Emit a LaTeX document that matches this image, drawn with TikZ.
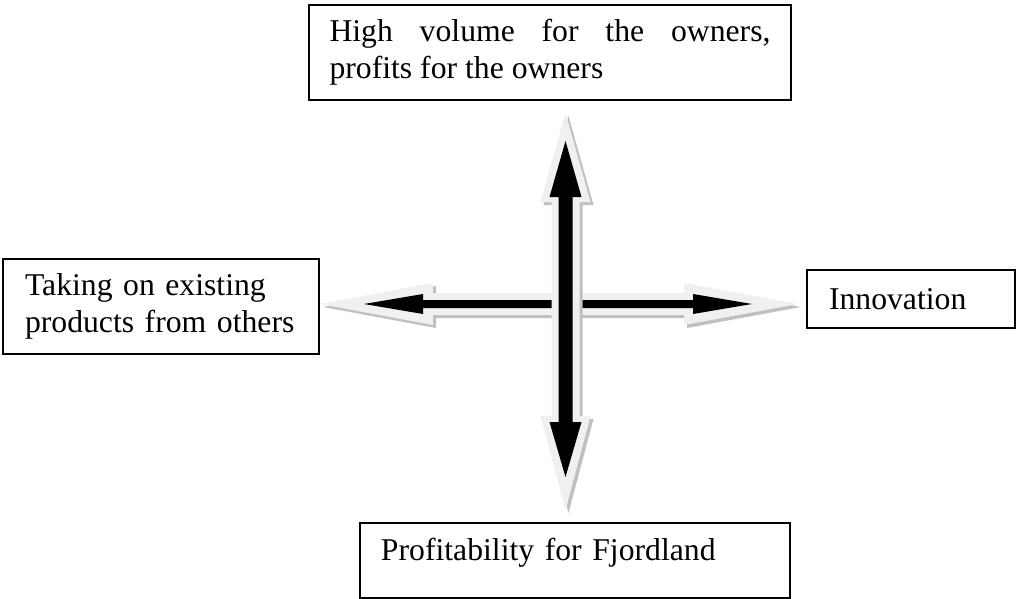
\documentclass[tikz,border=0pt]{standalone}
\usepackage{fontspec}
\setmainfont{Liberation Serif}
\definecolor{arrowlight}{RGB}{240,240,240}
\definecolor{arrowshade}{RGB}{192,192,192}
\tikzset{
  box/.style={draw, line width=0.75pt, inner xsep=0pt, inner ysep=0pt, align=left},
}

\begin{document}
\begin{tikzpicture}[x=0.3785pt, y=-0.3785pt, font=\fontsize{12pt}{14pt}\selectfont]
    \useasboundingbox (0,0) rectangle (1017,599);

    % Horizontal double arrow (shadow, light outline, black core)
    \fill[arrowshade, shift={(3,3)}] (320,304) -- (433,283) -- (433,293) -- (684,293) -- (684,283) -- (798,304)
      -- (684,325) -- (684,315) -- (433,315) -- (433,325) -- cycle;
    \fill[arrowlight] (320,304) -- (433,283) -- (433,293) -- (684,293) -- (684,283) -- (798,304)
      -- (684,325) -- (684,315) -- (433,315) -- (433,325) -- cycle;
    \fill[black] (364,304) -- (423,294) -- (423,300) -- (693,300) -- (693,294) -- (752,304)
      -- (693,314) -- (693,308) -- (423,308) -- (423,314) -- cycle;

    % Vertical double arrow (shadow, light outline, black core)
    \fill[arrowshade, shift={(3,3)}] (565.5,113) -- (590.5,202) -- (579.5,202) -- (579.5,416) -- (590.5,416) -- (565.5,510)
      -- (540.5,416) -- (551.5,416) -- (551.5,202) -- (540.5,202) -- cycle;
    \fill[arrowlight] (565.5,113) -- (590.5,202) -- (579.5,202) -- (579.5,416) -- (590.5,416) -- (565.5,510)
      -- (540.5,416) -- (551.5,416) -- (551.5,202) -- (540.5,202) -- cycle;
    \fill[black] (565.5,141) -- (581.5,197) -- (572.5,197) -- (572.5,422) -- (581.5,422) -- (565.5,477)
      -- (549.5,422) -- (558.5,422) -- (558.5,197) -- (549.5,197) -- cycle;

    % Boxes
    \node[box, text width=166.92pt, minimum width=182.44pt, minimum height=35.96pt, align=justify]
      (volume) at (550,52.5) {High volume for the owners,\linebreak profits for the owners};
    \node[box, text width=102.95pt, minimum width=119.61pt, minimum height=35.96pt]
      (existing) at (161,306.5) {Taking on existing\\products from others};
    \node[box, text width=62.07pt, minimum width=78.73pt, minimum height=21.95pt]
      (innovation) at (911,299) {Innovation};
    \node[box, text width=146.86pt, minimum width=162.76pt, minimum height=28.39pt, text height=8pt, text depth=8pt]
      (profit) at (575,560.5) {Profitability for Fjordland};

  \end{tikzpicture}
\end{document}
